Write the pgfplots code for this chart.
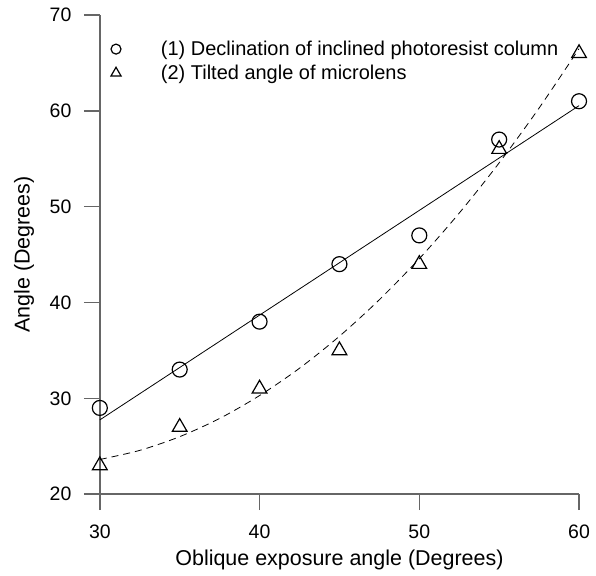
\documentclass[border=0pt]{standalone}
\usepackage{fontspec}
\setmainfont{Liberation Sans}
\usepackage{pgfplots}
\pgfplotsset{compat=1.18}
\begin{document}
\begin{tikzpicture}[x=1pt,y=1pt]
\begin{axis}[
  scale only axis,
  width=480pt, height=480pt,
  xmin=30, xmax=60, ymin=20, ymax=70,
  axis x line*=bottom, axis y line*=left,
  axis line style={draw=black!60, line width=1.4pt},
  xtick={30,40,50,60}, ytick={20,30,40,50,60,70},
  tick align=outside, major tick length=16pt,
  tick style={draw=black!60, line width=1.4pt},
  minor tick num=0,
  /pgf/number format/assume math mode=true,
  ticklabel style={font=\fontsize{19.5}{22}\selectfont},
  xticklabel style={yshift=-11pt},
  yticklabel style={xshift=-9pt},
  label style={font=\fontsize{21.5}{25}\selectfont},
  xlabel={Oblique exposure angle (Degrees)},
  ylabel={Angle (Degrees)},
  xlabel style={at={(axis description cs:0.5,-0.1375)}, anchor=center},
  ylabel style={at={(axis description cs:-0.158,0.5)}, anchor=center},
  clip=false,
  legend style={draw=none, fill=none, at={(axis description cs:0.0229,0.95)}, anchor=north west,
    font=\fontsize{20}{23}\selectfont, row sep=4pt, inner xsep=0pt, inner ysep=0pt},
  legend cell align=left,
  legend image code/.code={\draw[#1] plot coordinates {(13pt,0pt)};},
]
\addplot[only marks, mark=o, mark size=7.5pt, line width=1.2pt, black,
  legend image post style={mark size=5pt}]
  coordinates {(30,29)(35,33)(40,38)(45,44)(50,47)(55,57)(60,61)};
\addlegendentry{\hspace{38pt}(1) Declination of inclined photoresist column}
\addplot[only marks, mark=triangle, mark size=8.5pt, line width=1.2pt, black,
  legend image post style={mark size=5.8pt}]
  coordinates {(30,23)(35,27)(40,31)(45,35)(50,44)(55,56)(60,66)};
\addlegendentry{\hspace{38pt}(2) Tilted angle of microlens}
\addplot[black, line width=0.8pt, forget plot]
  coordinates {(30,27.75)(60,60.54)};
\addplot[black, line width=0.8pt, dash pattern=on 7pt off 5pt, smooth, forget plot]
  coordinates {(30,23.62)(32.5,24.57)(35,26.00)(37.5,27.90)(40,30.29)(42.5,33.14)(45,36.48)(47.5,40.29)(50,44.57)(52.5,49.33)(55,54.57)(57.5,60.29)(60,66.48)};
\coordinate (bl) at (rel axis cs:-0.20833,-0.16875);
\coordinate (tr) at (rel axis cs:1.03542,1.03125);
\end{axis}
\pgfresetboundingbox
\path (bl) rectangle (tr);
\end{tikzpicture}
\end{document}
